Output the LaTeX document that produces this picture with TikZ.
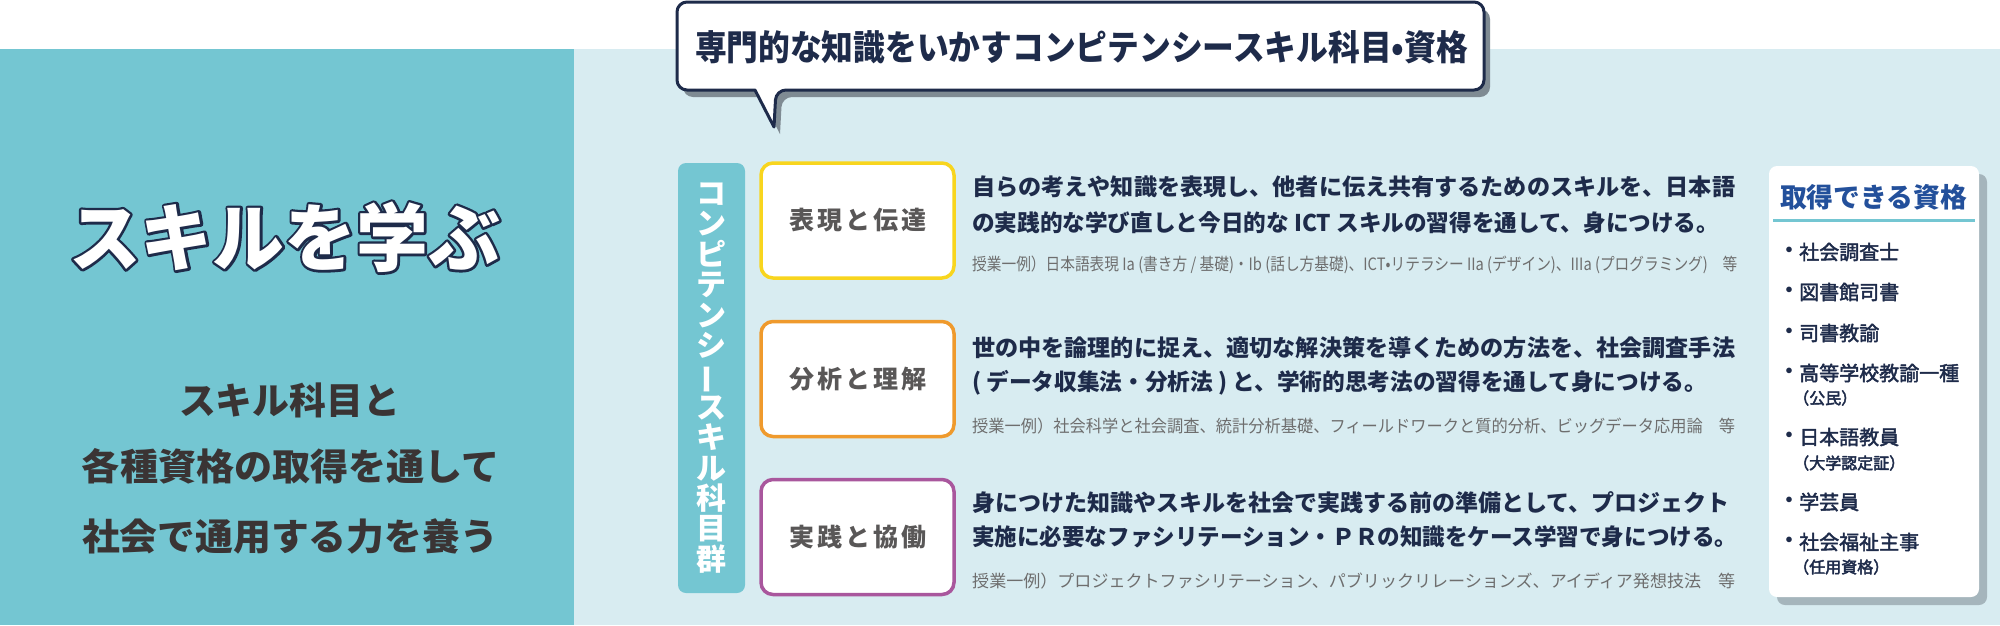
\documentclass[tikz,border=0pt]{standalone}
\usepackage{fontspec}
\usepackage{graphicx}
\setmainfont{Noto Sans CJK JP}
\newfontfamily\lblfont{Noto Sans CJK JP}[LetterSpace=12]
\usetikzlibrary{shadows}
\newcommand\fitw[2]{\resizebox{#1}{\height}{#2}}
\newcommand\outlined[1]{\rlap{\special{pdf:literal direct 0.118 0.169 0.290 rg 0.118 0.169 0.290 RG 2 Tr 5 w 1 J 1 j}#1\special{pdf:literal direct 0 Tr 1 1 1 rg 1 1 1 RG}}#1}
\newcommand\medw[1]{\special{pdf:literal direct 2 Tr 0.45 w 1 j}#1\special{pdf:literal direct 0 Tr}}
\definecolor{tealc}{HTML}{74C6D2}
\definecolor{lightc}{HTML}{D8ECF1}
\definecolor{navyc}{HTML}{1E2B4A}
\definecolor{subc}{HTML}{3A3434}
\definecolor{lblc}{HTML}{595757}
\definecolor{exc}{HTML}{6E6E6E}
\definecolor{yelc}{HTML}{F8D51E}
\definecolor{orac}{HTML}{EF9A2D}
\definecolor{purc}{HTML}{A9579D}
\definecolor{bluec}{HTML}{23509B}
\definecolor{shadc}{HTML}{7F8B93}
\definecolor{boxshadc}{HTML}{A5B5BC}
\tikzset{
  subline/.style={inner sep=0pt, text=subc, font=\bfseries\fontsize{37}{37}\selectfont},
  areabox/.style={draw, line width=3.5pt, fill=white, rounded corners=12pt, minimum width=193pt, minimum height=115pt, inner sep=0pt},
  arealabel/.style={text=lblc, font=\lblfont\bfseries\fontsize{25}{25}\selectfont},
  descline/.style={anchor=west, inner sep=0pt, text=navyc, font=\bfseries\fontsize{23}{23}\selectfont},
  exline/.style={anchor=west, inner sep=0pt, text=exc, font=\fontsize{17}{17}\selectfont},
  qitem/.style={anchor=west, inner sep=0pt, text=navyc, font=\fontsize{20}{20}\selectfont},
  qsub/.style={anchor=west, inner sep=0pt, text=navyc, font=\fontsize{16}{16}\selectfont},
  qdot/.style={inner sep=0pt, text=navyc, font=\bfseries\fontsize{20}{20}\selectfont},
}
\begin{document}
\begin{tikzpicture}[x=1pt,y=-1pt]
\useasboundingbox (0,0) rectangle (2000,625);
\fill[white] (0,0) rectangle (2000,625);
\fill[tealc] (0,49) rectangle (574,625);
\fill[lightc] (574,49) rectangle (2000,625);

% left panel
\node[inner sep=0pt, text=white, font=\bfseries\fontsize{74}{74}\selectfont] (main) at (284.5,237)
  {\fitw{431pt}{\outlined{スキルを学ぶ}}};
\node[subline] (sub1) at (289.5,400) {\fitw{221pt}{スキル科目と}};
\node[subline] (sub2) at (291,466) {\fitw{418pt}{各種資格の取得を通して}};
\node[subline] (sub3) at (290,536) {\fitw{416pt}{社会で通用する力を養う}};

% speech bubble
\fill[shadc, rounded corners=10pt, shift={(6,7)}] (755,90) -- (677,90) -- (677,2) -- (1484,2) -- (1484,90) -- (776,90) [sharp corners] -- (774,127) -- cycle;
\draw[navyc, line width=3pt, fill=white, line join=round, rounded corners=10pt] (755,90) -- (677,90) -- (677,2) -- (1484,2) -- (1484,90) -- (776,90) [sharp corners] -- (774,127) -- cycle;
\node[inner sep=0pt, text=navyc, font=\bfseries\fontsize{35}{35}\selectfont] (bubtitle) at (1081.5,47)
  {\fitw{773pt}{専門的な知識をいかすコンピテンシースキル科目•資格}};

% vertical bar
\node[fill=tealc, rounded corners=8pt, minimum width=67pt, minimum height=430pt, inner sep=0pt,
      text=white, align=center, font=\bfseries\fontsize{30}{30.4}\selectfont] (vbar) at (711.5,378)
  {コ\\ン\\ピ\\テ\\ン\\シ\\\rotatebox[origin=c]{90}{ー}\\ス\\キ\\ル\\科\\目\\群};

% area boxes
\node[areabox, draw=yelc] (box1) at (857.5,220.5) {};
\node[areabox, draw=orac] (box2) at (857.5,379) {};
\node[areabox, draw=purc] (box3) at (857.5,537) {};
\node[arealabel] (lab1) at (box1) {表現と伝達};
\node[arealabel] (lab2) at (box2) {分析と理解};
\node[arealabel] (lab3) at (box3) {実践と協働};

% descriptions
\node[descline] (d1a) at (972,187) {\fitw{763pt}{自らの考えや知識を表現し、他者に伝え共有するためのスキルを、日本語}};
\node[descline] (d1b) at (972,223) {\fitw{747pt}{の実践的な学び直しと今日的な ICT スキルの習得を通して、身につける。}};
\node[exline] (e1) at (972,265) {\fitw{765pt}{授業一例）日本語表現 Ia (書き方 / 基礎)・Ib (話し方基礎)、ICT•リテラシー IIa (デザイン)、IIIa (プログラミング)　等}};
\node[descline] (d2a) at (972,348) {\fitw{763pt}{世の中を論理的に捉え、適切な解決策を導くための方法を、社会調査手法}};
\node[descline] (d2b) at (972,383) {\fitw{735pt}{( データ収集法・分析法 ) と、学術的思考法の習得を通して身につける。}};
\node[exline] (e2) at (972,426) {\fitw{763pt}{授業一例）社会科学と社会調査、統計分析基礎、フィールドワークと質的分析、ビッグデータ応用論　等}};
\node[descline] (d3a) at (972,503) {\fitw{757pt}{身につけた知識やスキルを社会で実践する前の準備として、プロジェクト}};
\node[descline] (d3b) at (972,537) {\fitw{765pt}{実施に必要なファシリテーション・ＰＲの知識をケース学習で身につける。}};
\node[exline] (e3) at (972,581) {\fitw{763pt}{授業一例）プロジェクトファシリテーション、パブリックリレーションズ、アイディア発想技法　等}};

% qualifications box
\node[fill=white, rounded corners=8pt, minimum width=210pt, minimum height=431pt, inner sep=0pt,
      drop shadow={shadow xshift=8pt, shadow yshift=-8pt, fill=boxshadc, opacity=1}] (qbox) at (1874,381.5) {};
\node[inner sep=0pt, text=bluec, font=\bfseries\fontsize{27}{27}\selectfont] (qtitle) at (1873.5,197) {\fitw{187pt}{取得できる資格}};
\draw[tealc, line width=3pt] (1773,220) -- (1975,220);
\node[qdot] (b1) at (1789,252) {・};
\node[qitem] (q1) at (1799,252) {\medw{社会調査士}};
\node[qdot] (b2) at (1789,292) {・};
\node[qitem] (q2) at (1799,292) {\medw{図書館司書}};
\node[qdot] (b3) at (1789,333) {・};
\node[qitem] (q3) at (1799,333) {\medw{司書教諭}};
\node[qdot] (b4) at (1789,373) {・};
\node[qitem] (q4) at (1799,373) {\medw{高等学校教諭一種}};
\node[qsub] (q4s) at (1793,398) {\medw{（公民）}};
\node[qdot] (b5) at (1789,437) {・};
\node[qitem] (q5) at (1799,437) {\medw{日本語教員}};
\node[qsub] (q5s) at (1793,463) {\medw{（大学認定証）}};
\node[qdot] (b6) at (1789,502) {・};
\node[qitem] (q6) at (1799,502) {\medw{学芸員}};
\node[qdot] (b7) at (1789,542) {・};
\node[qitem] (q7) at (1799,542) {\medw{社会福祉主事}};
\node[qsub] (q7s) at (1793,567) {\medw{（任用資格）}};
\end{tikzpicture}
\end{document}
